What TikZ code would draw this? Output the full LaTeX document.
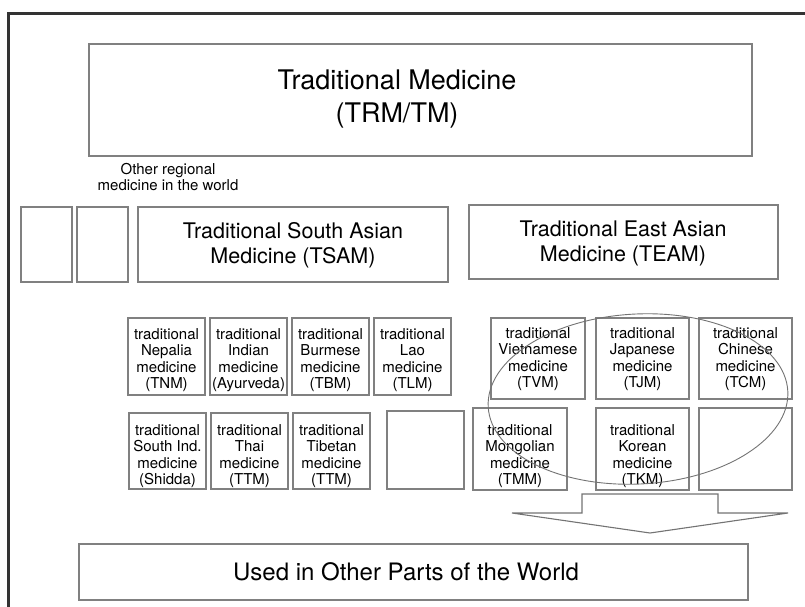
\documentclass[tikz,border=0pt]{standalone}
\usepackage{fontspec}
\setmainfont{TeX Gyre Heros}
\newcommand\rbox[5]{\node[box, minimum width={(#4-#2)*1pt}, minimum height={(#5-#3)*1pt}] (#1) at ({(#2+#4)/2},{(#3+#5)/2}) {};}
\begin{document}
\begin{tikzpicture}[x=1pt,y=-1pt,
  box/.style={draw=black!50, line width=1.1pt, inner sep=0pt},
  txt/.style={align=center, inner sep=0pt, text=black},
  bigtxt/.style={txt, font=\fontsize{27}{33}\selectfont},
  midtxt/.style={txt, font=\fontsize{21.5}{25}\selectfont},
  celltxt/.style={txt, font=\fontsize{15}{16.5}\selectfont},
  smalltxt/.style={txt, font=\fontsize{15}{11.5}\selectfont},
  frameline/.style={draw=black!80, line width=3pt},
  ring/.style={draw=black!55, line width=0.9pt},
  blockarrow/.style={draw=black!55, line width=1.1pt, fill=white, line join=miter}]
\useasboundingbox (0,0) rectangle (805,607);

% outer frame
\draw[frameline] (8,607) -- (8,14) -- (805,14);

% top box
\rbox{trm}{89}{44}{752}{156}
\node[bigtxt] (trmt) at (397,99) {Traditional Medicine\\(TRM/TM)};

\node[smalltxt] (other) at (168,177) {Other regional\\medicine in the world};

% second row
\rbox{o1}{21}{207}{72}{282}
\rbox{o2}{77}{207}{128}{282}
\rbox{tsam}{138}{207}{448}{282}
\node[midtxt] (tsamt) at (293,245) {Traditional South Asian\\Medicine (TSAM)};
\rbox{team}{469}{205}{778}{279}
\node[midtxt] (teamt) at (623,243) {Traditional East Asian\\Medicine (TEAM)};

% South Asian cells
\rbox{nep}{128}{318}{205}{395}
\rbox{ind}{210}{318}{287}{395}
\rbox{bur}{292}{318}{369}{395}
\rbox{lao}{374}{318}{451}{395}
\node[celltxt] (nept) at ([yshift=-3.5pt]nep.center) {traditional\\Nepalia\\medicine\\(TNM)};
\node[celltxt] (indt) at ([yshift=-3.5pt]ind.center) {traditional\\Indian\\medicine\\(Ayurveda)};
\node[celltxt] (burt) at ([yshift=-3.5pt]bur.center) {traditional\\Burmese\\medicine\\(TBM)};
\node[celltxt] (laot) at ([yshift=-3.5pt]lao.center) {traditional\\Lao\\medicine\\(TLM)};

\rbox{sind}{129}{413}{206}{489}
\rbox{thai}{211}{413}{288}{489}
\rbox{tib}{293}{413}{370}{489}
\rbox{emS}{387}{411}{464}{489}
\node[celltxt] (sindt) at ([yshift=-5pt]sind.center) {traditional\\South Ind.\\medicine\\(Shidda)};
\node[celltxt] (thait) at ([yshift=-5pt]thai.center) {traditional\\Thai\\medicine\\(TTM)};
\node[celltxt] (tibt) at ([yshift=-5pt]tib.center) {traditional\\Tibetan\\medicine\\(TTM)};

% East Asian cells
\rbox{viet}{491}{318}{585}{399}
\rbox{jap}{596}{318}{689}{399}
\rbox{chn}{699}{318}{792}{399}
\node[celltxt] (viett) at ([yshift=-0.5pt]viet.center) {traditional\\Vietnamese\\medicine\\(TVM)};
\node[celltxt] (japt) at ([yshift=-0.5pt]jap.center) {traditional\\Japanese\\medicine\\(TJM)};
\node[celltxt] (chnt) at ([yshift=-0.5pt]chn.center) {traditional\\Chinese\\medicine\\(TCM)};

\rbox{mon}{473}{408}{567}{490}
\rbox{kor}{596}{408}{689}{490}
\rbox{emE}{699}{408}{792}{490}
\node[celltxt] (mont) at ([yshift=-7pt]mon.center) {traditional\\Mongolian\\medicine\\(TMM)};
\node[celltxt] (kort) at ([yshift=-7pt]kor.center) {traditional\\Korean\\medicine\\(TKM)};

% ellipse around East Asian cells
\draw[ring, rotate around={3:(638,399)}] (638,399) ellipse [x radius=150pt, y radius=85pt];

% block arrow
\draw[blockarrow] (582,494) -- (718,494) -- (718,513) -- (788,513) -- (650,533) -- (512,513) -- (582,513) -- cycle;

% bottom box
\rbox{used}{79}{544}{748}{600}
\node[txt, font=\fontsize{24}{28}\selectfont] (usedt) at (406,572) {Used in Other Parts of the World};
\end{tikzpicture}
\end{document}
